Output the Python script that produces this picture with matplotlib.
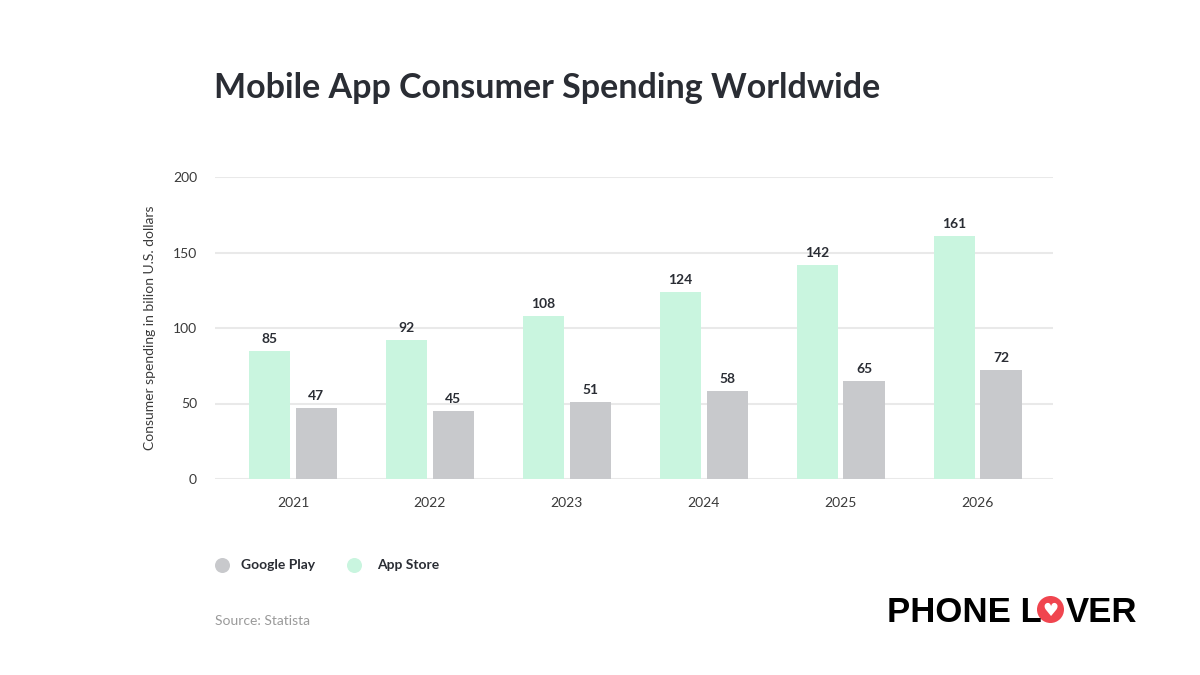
"""
Mobile app consumer spending worldwide, App Store vs Google Play (2021-2026).
Output: out.png
"""
import numpy as np
import matplotlib
matplotlib.use("Agg")
import matplotlib.pyplot as plt
from matplotlib.patches import Circle

W, H = 1200, 675

years       = ["2021", "2022", "2023", "2024", "2025", "2026"]
app_store   = [85, 92, 108, 124, 142, 161]
google_play = [47, 45, 51, 58, 65, 72]
y_ticks     = [0, 50, 100, 150, 200]

C_APP   = "#c9f5df"
C_GP    = "#c8c9cc"
C_TEXT  = "#2a2d34"
C_GRID  = "#e9e9e9"
C_RED   = "#f0454f"

plt.rcParams.update({
    "font.family": ["Lato", "DejaVu Sans"],
    "figure.facecolor": "white",
    "axes.facecolor": "white",
})

fig = plt.figure(figsize=(W / 100, H / 100), dpi=100)


def fx(px):
    return px / W


def fy(py):
    return 1 - py / H


# ── Chart ────────────────────────────────────────────────────────────────────
ax = fig.add_axes([fx(215), fy(479), fx(1053) - fx(215), fy(177) - fy(479)])

x = np.arange(len(years))
bw = 0.30
off = 0.17

b_app = ax.bar(x - off, app_store, width=bw, color=C_APP, zorder=2)
b_gp  = ax.bar(x + off, google_play, width=bw, color=C_GP, zorder=2)

for bars, vals in ((b_app, app_store), (b_gp, google_play)):
    for r, v in zip(bars, vals):
        ax.text(r.get_x() + r.get_width() / 2, v + 4, str(v), ha="center",
                va="bottom", fontsize=10, fontweight="bold", color=C_TEXT)

ax.set_xlim(-0.57, 5.55)
ax.set_ylim(0, 200)
ax.set_yticks(y_ticks)
ax.set_xticks(x)
ax.set_xticklabels(years)
ax.tick_params(axis="both", length=0, labelsize=10, colors="#3a3a3a")
ax.tick_params(axis="y", pad=13)
ax.tick_params(axis="x", pad=13)
for s in ax.spines.values():
    s.set_visible(False)
ax.yaxis.grid(True, color=C_GRID, lw=1.5, zorder=0)
ax.set_axisbelow(True)
ax.set_ylabel("Consumer spending in bilion U.S. dollars", fontsize=10,
              color="#3a3a3a", labelpad=12)

# ── Overlay in pixel units for title, legend, source, logo ──────────────────
ov = fig.add_axes([0, 0, 1, 1], zorder=5)
ov.set_xlim(0, W)
ov.set_ylim(H, 0)
ov.set_aspect("equal")
ov.axis("off")
ov.patch.set_alpha(0)

ov.text(214, 88, "Mobile App Consumer Spending Worldwide", fontsize=24.5,
        fontweight="bold", color=C_TEXT, va="center", ha="left")

ov.add_patch(Circle((222.5, 565.5), 7.5, color=C_GP, ec="none"))
ov.text(241, 565, "Google Play", fontsize=10, fontweight="bold",
        color=C_TEXT, va="center")
ov.add_patch(Circle((354.5, 565.5), 7.5, color=C_APP, ec="none"))
ov.text(377, 565, "App Store", fontsize=10, fontweight="bold",
        color=C_TEXT, va="center")

ov.text(215, 621, "Source: Statista", fontsize=10, color="#9a9a9a",
        va="center")

logo_font = dict(fontsize=25, fontweight="bold", color="black",
                 va="baseline", family=["Liberation Sans", "DejaVu Sans"])
ov.text(887, 622, "PHONE L", **logo_font)
ov.text(1066, 622, "VER", **logo_font)
ov.add_patch(Circle((1050.5, 609.5), 13.5, color=C_RED, ec="none"))
ov.text(1050.5, 610.5, "\u2665", fontsize=13, color="white", ha="center",
        va="center", family="DejaVu Sans")

fig.savefig("out.png", dpi=100)
